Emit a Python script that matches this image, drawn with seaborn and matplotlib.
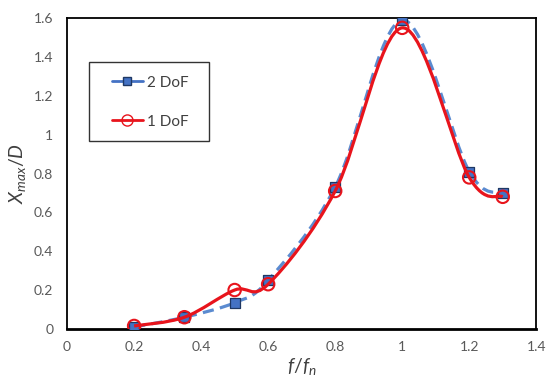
import numpy as np
import pandas as pd
import matplotlib
matplotlib.use("Agg")
import matplotlib.pyplot as plt
import seaborn as sns
from matplotlib.path import Path
from matplotlib.patches import PathPatch, Rectangle
from matplotlib.lines import Line2D

# Data
freq_ratio = [0.2, 0.35, 0.5, 0.6, 0.8, 1.0, 1.2, 1.3]
x_2dof = [0.01, 0.06, 0.135, 0.25, 0.73, 1.59, 0.81, 0.70]
x_1dof = [0.015, 0.06, 0.20, 0.23, 0.71, 1.55, 0.78, 0.68]

x_ticks = [0, 0.2, 0.4, 0.6, 0.8, 1.0, 1.2, 1.4]
x_tick_labels = ["0", "0.2", "0.4", "0.6", "0.8", "1", "1.2", "1.4"]
y_ticks = [0, 0.2, 0.4, 0.6, 0.8, 1.0, 1.2, 1.4, 1.6]
y_tick_labels = ["0", "0.2", "0.4", "0.6", "0.8", "1", "1.2", "1.4", "1.6"]

df = pd.DataFrame({"f": freq_ratio * 2,
                   "x": x_2dof + x_1dof,
                   "model": ["2 DoF"] * len(freq_ratio) + ["1 DoF"] * len(freq_ratio)})

sns.set_style("white")
plt.rcParams["font.family"] = ["Lato", "DejaVu Sans"]
plt.rcParams["mathtext.fontset"] = "custom"
plt.rcParams["mathtext.it"] = "Lato:italic"
plt.rcParams["mathtext.rm"] = "Lato"


def smooth_path(xs, ys):
    # Excel-style smoothed line: cubic Bezier through each pair of points
    pts = np.column_stack([xs, ys])
    n = len(pts)
    verts = [pts[0]]
    codes = [Path.MOVETO]
    for i in range(n - 1):
        p0 = pts[i - 1] if i > 0 else pts[i]
        p1 = pts[i]
        p2 = pts[i + 1]
        p3 = pts[i + 2] if i + 2 < n else pts[i + 1]
        c1 = p1 + (p2 - p0) / 6
        c2 = p2 - (p3 - p1) / 6
        verts += [c1, c2, p2]
        codes += [Path.CURVE4] * 3
    return Path(verts, codes)


fig = plt.figure(figsize=(5.5, 3.86), dpi=100)
ax = fig.add_axes([0.122, 0.148, 0.853, 0.805])

blue_line = "#5b8bd0"
blue_face = "#4472c4"
blue_edge = "#1f3864"
red = "#e8141c"

ax.add_patch(PathPatch(smooth_path(freq_ratio, x_2dof), facecolor="none",
                       edgecolor=blue_line, lw=2.3, linestyle=(0, (3.5, 2)), zorder=2))
sns.scatterplot(data=df[df.model == "2 DoF"], x="f", y="x", marker="s", s=45,
                color=blue_face, edgecolor=blue_edge, linewidth=0.9, ax=ax, zorder=3, legend=False)

ax.add_patch(PathPatch(smooth_path(freq_ratio, x_1dof), facecolor="none",
                       edgecolor=red, lw=2.3, zorder=4))
ax.scatter(freq_ratio, x_1dof, marker="o", s=80, facecolors="none",
           edgecolors=red, linewidths=1.5, zorder=5)

ax.set_xlim(0, 1.4)
ax.set_ylim(0, 1.6)
ax.set_xticks(x_ticks)
ax.set_xticklabels(x_tick_labels)
ax.set_yticks(y_ticks)
ax.set_yticklabels(y_tick_labels)
ax.tick_params(axis="x", direction="in", length=4, width=1, color="black",
               labelsize=10, labelcolor="#595959", pad=9)
ax.tick_params(axis="y", length=0, labelsize=10, labelcolor="#595959", pad=10)

for side in ["top", "right", "left"]:
    ax.spines[side].set_color("black")
    ax.spines[side].set_linewidth(1.3)
ax.spines["bottom"].set_color("black")
ax.spines["bottom"].set_linewidth(2)

ax.set_xlabel(r"$f/f_n$", fontsize=14, color="#404040", labelpad=2)
ax.set_ylabel(r"$X_{max}/D$", fontsize=14, color="#404040", labelpad=4)

# legend box drawn separately so it can be wider than its contents
ax.add_patch(Rectangle((0.047, 0.605), 0.256, 0.254, transform=ax.transAxes,
                       facecolor="white", edgecolor="#333333", lw=1, zorder=6))

handles = [
    Line2D([0], [0], color=blue_face, lw=2, marker="s", markersize=6,
           markerfacecolor=blue_face, markeredgecolor=blue_edge),
    Line2D([0], [0], color=red, lw=2, marker="o", markersize=8,
           markerfacecolor="none", markeredgecolor=red),
]
leg = ax.legend(handles, ["2 DoF", "1 DoF"], loc="upper left",
                bbox_to_anchor=(0.096, 0.815), frameon=False, fontsize=11,
                handlelength=2.0, handletextpad=0.3, labelspacing=1.65,
                borderpad=0, borderaxespad=0)
leg.set_zorder(7)
for t in leg.get_texts():
    t.set_color("#404040")

fig.savefig("out.png", dpi=100)
